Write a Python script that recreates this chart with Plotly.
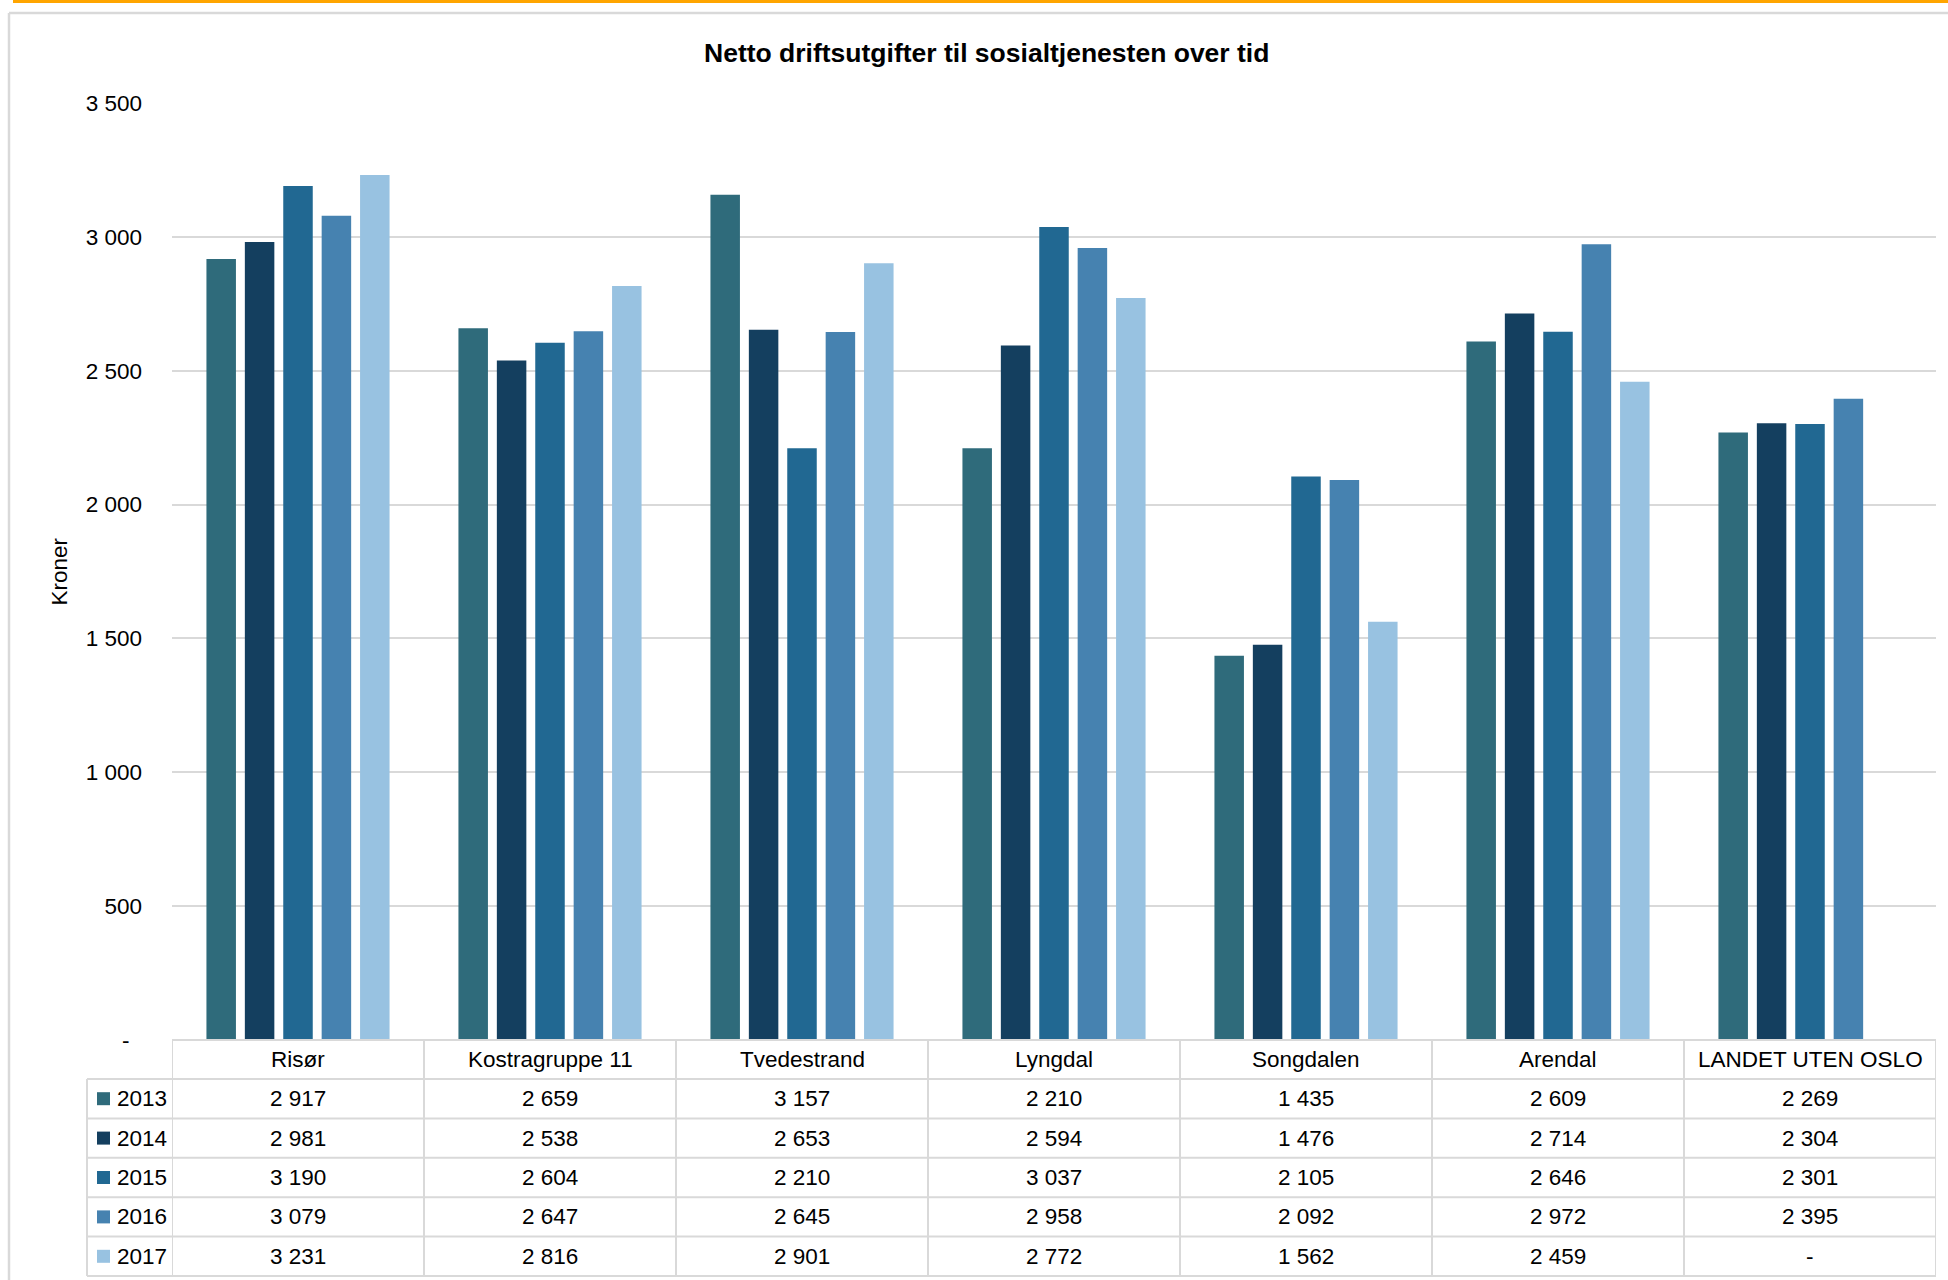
import plotly.graph_objects as go

# ---- data -------------------------------------------------------------
categories = ["Risør", "Kostragruppe 11", "Tvedestrand", "Lyngdal",
              "Songdalen", "Arendal", "LANDET UTEN OSLO"]
years = ["2013", "2014", "2015", "2016", "2017"]
values_2013 = [2917, 2659, 3157, 2210, 1435, 2609, 2269]
values_2014 = [2981, 2538, 2653, 2594, 1476, 2714, 2304]
values_2015 = [3190, 2604, 2210, 3037, 2105, 2646, 2301]
values_2016 = [3079, 2647, 2645, 2958, 2092, 2972, 2395]
values_2017 = [3231, 2816, 2901, 2772, 1562, 2459, None]
y_tickvals = [0, 500, 1000, 1500, 2000, 2500, 3000, 3500]

series = [values_2013, values_2014, values_2015, values_2016, values_2017]
colors = ["#2f6b7b", "#143f5f", "#216892", "#4682b0", "#98c2e1"]

# ---- layout geometry (pixels) -------------------------------------------
FIG_W, FIG_H = 1948, 1280
L, R, T, B = 172, 12, 103, 240
PW = FIG_W - L - R
PH = FIG_H - T - B
FONT = "Liberation Sans, Arial, sans-serif"
GRID = "#d9d9d9"


def xp(px):
    return (px - L) / PW


def yp(py):
    return (FIG_H - B - py) / PH


def fmt(v):
    if v is None or v == 0:
        return "-"
    return f"{v:,}".replace(",", " ")


fig = go.Figure()
for name, vals, col in zip(years, series, colors):
    fig.add_trace(go.Bar(
        name=name, x=categories, y=vals,
        marker=dict(color=col, line=dict(width=0)),
        showlegend=False,
    ))

shapes = []
annotations = []

# orange strip on top and the frame around the chart
shapes.append(dict(type="rect", xref="paper", yref="paper",
                   x0=xp(13), x1=xp(FIG_W + 5), y0=yp(0), y1=yp(3),
                   fillcolor="#ffa500", line=dict(width=0), layer="above"))
shapes.append(dict(type="line", xref="paper", yref="paper",
                   x0=xp(9), x1=xp(FIG_W + 5), y0=yp(13), y1=yp(13),
                   line=dict(color=GRID, width=2.5)))
shapes.append(dict(type="line", xref="paper", yref="paper",
                   x0=xp(9), x1=xp(9), y0=yp(13), y1=yp(FIG_H + 5),
                   line=dict(color=GRID, width=2.5)))

# data table under the plot
header_top = FIG_H - B
header_bot = header_top + 39
row_h = 39.4
row_edges = [header_bot + i * row_h for i in range(len(years) + 1)]
legend_left = 87

# header top line
shapes.append(dict(type="line", xref="x", yref="paper",
                   x0=-0.5, x1=len(categories) - 0.5,
                   y0=yp(header_top), y1=yp(header_top),
                   line=dict(color=GRID, width=2)))
# row lines, spanning the legend column too
for edge in row_edges:
    shapes.append(dict(type="line", xref="paper", yref="paper",
                       x0=xp(legend_left), x1=1,
                       y0=yp(edge), y1=yp(edge),
                       line=dict(color=GRID, width=2)))
# column separators
for i in range(len(categories) + 1):
    shapes.append(dict(type="line", xref="x", yref="paper",
                       x0=i - 0.5, x1=i - 0.5,
                       y0=yp(header_top), y1=yp(row_edges[-1]),
                       line=dict(color=GRID, width=2)))
shapes.append(dict(type="line", xref="paper", yref="paper",
                   x0=xp(legend_left), x1=xp(legend_left),
                   y0=yp(header_bot), y1=yp(row_edges[-1]),
                   line=dict(color=GRID, width=2)))

text_font = dict(family=FONT, size=22.5, color="#000000")

# header labels
for cat in categories:
    annotations.append(dict(xref="x", yref="paper", x=cat,
                            y=yp((header_top + header_bot) / 2),
                            text=cat, showarrow=False, font=text_font,
                            xanchor="center", yanchor="middle"))

# rows: legend key + values
for r, (name, vals, col) in enumerate(zip(years, series, colors)):
    yc = (row_edges[r] + row_edges[r + 1]) / 2
    shapes.append(dict(type="rect", xref="paper", yref="paper",
                       x0=xp(97), x1=xp(110), y0=yp(yc - 6.5), y1=yp(yc + 6.5),
                       fillcolor=col, line=dict(width=0)))
    annotations.append(dict(xref="paper", yref="paper", x=xp(115), y=yp(yc),
                            text=name, showarrow=False, font=text_font,
                            xanchor="left", yanchor="middle"))
    for cat, v in zip(categories, vals):
        annotations.append(dict(xref="x", yref="paper", x=cat, y=yp(yc),
                                text=fmt(v), showarrow=False, font=text_font,
                                xanchor="center", yanchor="middle"))

# title and axis title
annotations.append(dict(xref="paper", yref="paper", x=xp(986), y=yp(53),
                        text="<b>Netto driftsutgifter til sosialtjenesten over tid</b>",
                        showarrow=False,
                        font=dict(family=FONT, size=26.5, color="#000000"),
                        xanchor="center", yanchor="middle"))
annotations.append(dict(xref="paper", yref="paper", x=xp(59), y=0.5,
                        text="Kroner", textangle=-90, showarrow=False,
                        font=text_font, xanchor="center", yanchor="middle"))

y_ticktext = [fmt(v) + ("\u00a0\u00a0" if v == 0 else "") for v in y_tickvals]

fig.update_layout(
    width=FIG_W, height=FIG_H, autosize=False,
    margin=dict(l=L, r=R, t=T, b=B, pad=0),
    paper_bgcolor="white", plot_bgcolor="white",
    barmode="group", bargap=0.238, bargroupgap=0.232,
    font=text_font,
    xaxis=dict(type="category", range=[-0.5, len(categories) - 0.5],
               showticklabels=False, showgrid=False, showline=False,
               zeroline=False, ticks=""),
    yaxis=dict(range=[0, 3500], tickvals=y_tickvals, ticktext=y_ticktext,
               showgrid=True, gridcolor=GRID, gridwidth=2,
               zeroline=False, showline=False, ticks="",
               ticklabelstandoff=29,
               tickfont=text_font),
    shapes=shapes,
    annotations=annotations,
)

fig.write_html("out.html")
